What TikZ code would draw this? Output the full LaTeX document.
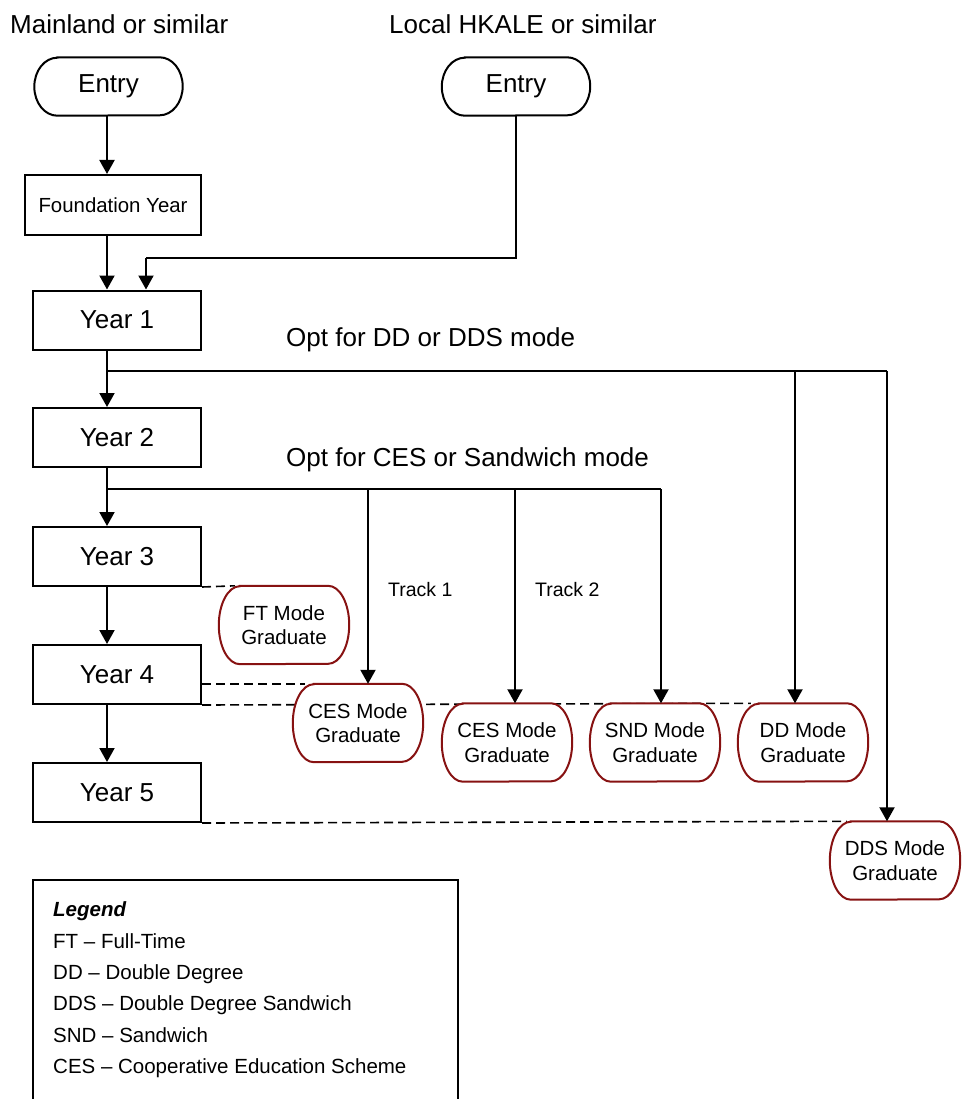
\documentclass[tikz,border=0pt]{standalone}
\usepackage{fontspec}
\setmainfont{Liberation Sans}
\usetikzlibrary{arrows.meta,backgrounds}
\definecolor{gradred}{RGB}{135,18,18}
\tikzset{
  ln/.style={line width=2pt},
  arr/.style={line width=2pt, -{Triangle[length=14pt,width=15pt]}},
  dsh/.style={line width=1.6pt, dash pattern=on 9pt off 5pt},
  big/.style={font=\fontsize{26}{31}\selectfont},
  lbl/.style={inner sep=0pt, font=\fontsize{26}{31}\selectfont},
  pill/.style n args={3}{append after command={\pgfextra{\draw[draw=#1, fill=white, line width=2pt]
      ([xshift=#2]\tikzlastnode.north west) -- ([xshift=-#2]\tikzlastnode.north east)
      arc[start angle=90, end angle=-90, x radius=#2, y radius=#3]
      -- ([xshift=#2]\tikzlastnode.south west)
      arc[start angle=270, end angle=90, x radius=#2, y radius=#3] -- cycle;}}},
  entrybox/.style={minimum width=148pt, minimum height=58pt, inner sep=0pt, big, pill={black}{23pt}{29pt}},
  yearbox/.style={draw, line width=2pt, minimum width=168pt, minimum height=59pt, inner sep=0pt, fill=white, big},
  fybox/.style={draw, line width=2pt, minimum width=176pt, minimum height=60pt, inner sep=0pt, fill=white, font=\fontsize{20.4}{24}\selectfont},
  gradbox/.style={minimum width=130pt, minimum height=78pt, inner sep=0pt, align=center, font=\fontsize{20.5}{24.5}\selectfont, pill={gradred}{21pt}{39pt}},
  legtxt/.style={inner sep=0pt, anchor=base west, font=\fontsize{20.5}{24}\selectfont},
}
\begin{document}
\begin{tikzpicture}[x=1pt,y=-1pt]
\useasboundingbox (0,0) rectangle (962,1099);

% headings
\node[lbl, anchor=base west] (h1) at (10,34) {Mainland or similar};
\node[lbl, anchor=base west] (h2) at (389,34) {Local HKALE or similar};
\node[lbl, anchor=base west] (o1) at (286,346) {Opt for DD or DDS mode};
\node[lbl, anchor=base west] (o2) at (286,466) {Opt for CES or Sandwich mode};
\node[inner sep=0pt, font=\fontsize{19.5}{23}\selectfont, anchor=base west] (tr1) at (388,596) {Track 1};
\node[inner sep=0pt, font=\fontsize{19.5}{23}\selectfont, anchor=base west] (tr2) at (535,596) {Track 2};

% main column
\node[entrybox] (e1) at (108.5,86.5) {Entry};
\node[entrybox] (e2) at (516,86.5) {Entry};
\node[fybox] (fy) at (113,205) {Foundation Year};
\node[yearbox] (y1) at (117,320) {Year 1};
\node[yearbox] (y2) at (117,437.5) {Year 2};
\node[yearbox] (y3) at (117,556.5) {Year 3};
\node[yearbox] (y4) at (117,674.5) {Year 4};
\node[yearbox] (y5) at (117,792.5) {Year 5};

% graduates
\node[gradbox] (ft) at (284,625) {FT Mode\\Graduate};
\node[gradbox] (ces1) at (358,723) {CES Mode\\Graduate};
\node[gradbox] (ces2) at (507,742.5) {CES Mode\\Graduate};
\node[gradbox] (snd) at (655,742.5) {SND Mode\\Graduate};
\node[gradbox] (dd) at (803,742.5) {DD Mode\\Graduate};
\node[gradbox] (dds) at (895,860.5) {DDS Mode\\Graduate};

% helper coordinates
\coordinate (mx) at (107,0);
\coordinate (lx) at (146,0);
\coordinate (ly) at (0,258);
\coordinate (b1) at (107,371);
\coordinate (b2) at (107,489);
\coordinate (c1x) at (368,0);
\coordinate (c2x) at (515,0);
\coordinate (sx) at (661,0);
\coordinate (dx) at (795,0);
\coordinate (ddsx) at (887,0);

% vertical flow
\draw[arr] (e1.south -| mx) -- (fy.north -| mx);
\draw[arr] (fy.south -| mx) -- (y1.north -| mx);
\draw[ln] (e2.south) -- (e2.south |- ly) -- (ly -| lx);
\draw[arr] (ly -| lx) -- (y1.north -| lx);
\draw[arr] (y1.south -| mx) -- (y2.north -| mx);
\draw[arr] (y2.south -| mx) -- (y3.north -| mx);
\draw[arr] (y3.south -| mx) -- (y4.north -| mx);
\draw[arr] (y4.south -| mx) -- (y5.north -| mx);

% branch after year 1
\draw[ln] (b1) -- (b1 -| ddsx);
\draw[arr] (b1 -| dx) -- (dd.north -| dx);
\draw[arr] (b1 -| ddsx) -- (dds.north -| ddsx);

% branch after year 2
\draw[ln] (b2) -- (b2 -| sx);
\draw[arr] (b2 -| c1x) -- (ces1.north -| c1x);
\draw[arr] (b2 -| c2x) -- (ces2.north -| c2x);
\draw[arr] (b2 -| sx) -- (snd.north -| sx);

% dashed links
\begin{scope}[on background layer]
\draw[dsh] (y3.south east) -- ([xshift=16pt]ft.north west);
\draw[dsh] (y4.east |- ces1.north) -- ([xshift=12pt]ces1.north west);
\draw[dsh] (y4.south east) -- ([xshift=13pt]dd.north west);
\draw[dsh] (y5.south east) -- ([xshift=17pt]dds.north west);
\end{scope}

% legend
\draw[ln] (33,1099) -- (33,880) -- (458,880) -- (458,1099);
\node[legtxt, font=\fontsize{20.5}{24}\selectfont\bfseries\itshape] (lg0) at (53,916) {Legend};
\node[legtxt] (lg1) at (53,948) {FT – Full-Time};
\node[legtxt] (lg2) at (53,979) {DD – Double Degree};
\node[legtxt] (lg3) at (53,1010) {DDS – Double Degree Sandwich};
\node[legtxt] (lg4) at (53,1042) {SND – Sandwich};
\node[legtxt] (lg5) at (53,1073) {CES – Cooperative Education Scheme};
\end{tikzpicture}
\end{document}
